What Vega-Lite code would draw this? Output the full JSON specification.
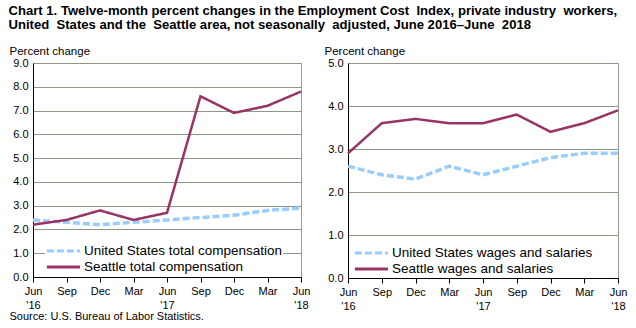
{
  "$schema": "https://vega.github.io/schema/vega-lite/v6.json",
  "padding": {"left": 8, "top": 4, "right": 5, "bottom": 0},
  "background": "white",
  "title": {
    "text": ["Chart 1. Twelve-month percent changes in the Employment Cost\u00a0 Index, private industry\u00a0 workers,", "United\u00a0 States and the\u00a0 Seattle area, not seasonally\u00a0 adjusted, June 2016–June\u00a0 2018"],
    "anchor": "start",
    "font": "Liberation Sans",
    "fontSize": 13.1,
    "fontWeight": "bold",
    "lineHeight": 14.5,
    "color": "#000000",
    "offset": 12
  },
  "datasets": {
    "total": [
      {"q": "Jun|'16", "series": "United States total compensation", "value": 2.4},
      {"q": "Sep", "series": "United States total compensation", "value": 2.3},
      {"q": "Dec", "series": "United States total compensation", "value": 2.2},
      {"q": "Mar", "series": "United States total compensation", "value": 2.3},
      {"q": "Jun|'17", "series": "United States total compensation", "value": 2.4},
      {"q": "Sep ", "series": "United States total compensation", "value": 2.5},
      {"q": "Dec ", "series": "United States total compensation", "value": 2.6},
      {"q": "Mar ", "series": "United States total compensation", "value": 2.8},
      {"q": "Jun|'18", "series": "United States total compensation", "value": 2.9},
      {"q": "Jun|'16", "series": "Seattle total compensation", "value": 2.2},
      {"q": "Sep", "series": "Seattle total compensation", "value": 2.4},
      {"q": "Dec", "series": "Seattle total compensation", "value": 2.8},
      {"q": "Mar", "series": "Seattle total compensation", "value": 2.4},
      {"q": "Jun|'17", "series": "Seattle total compensation", "value": 2.7},
      {"q": "Sep ", "series": "Seattle total compensation", "value": 7.6},
      {"q": "Dec ", "series": "Seattle total compensation", "value": 6.9},
      {"q": "Mar ", "series": "Seattle total compensation", "value": 7.2},
      {"q": "Jun|'18", "series": "Seattle total compensation", "value": 7.8}
    ],
    "wages": [
      {"q": "Jun|'16", "series": "United States wages and salaries", "value": 2.6},
      {"q": "Sep", "series": "United States wages and salaries", "value": 2.4},
      {"q": "Dec", "series": "United States wages and salaries", "value": 2.3},
      {"q": "Mar", "series": "United States wages and salaries", "value": 2.6},
      {"q": "Jun|'17", "series": "United States wages and salaries", "value": 2.4},
      {"q": "Sep ", "series": "United States wages and salaries", "value": 2.6},
      {"q": "Dec ", "series": "United States wages and salaries", "value": 2.8},
      {"q": "Mar ", "series": "United States wages and salaries", "value": 2.9},
      {"q": "Jun|'18", "series": "United States wages and salaries", "value": 2.9},
      {"q": "Jun|'16", "series": "Seattle wages and salaries", "value": 2.9},
      {"q": "Sep", "series": "Seattle wages and salaries", "value": 3.6},
      {"q": "Dec", "series": "Seattle wages and salaries", "value": 3.7},
      {"q": "Mar", "series": "Seattle wages and salaries", "value": 3.6},
      {"q": "Jun|'17", "series": "Seattle wages and salaries", "value": 3.6},
      {"q": "Sep ", "series": "Seattle wages and salaries", "value": 3.8},
      {"q": "Dec ", "series": "Seattle wages and salaries", "value": 3.4},
      {"q": "Mar ", "series": "Seattle wages and salaries", "value": 3.6},
      {"q": "Jun|'18", "series": "Seattle wages and salaries", "value": 3.9}
    ]
  },
  "spacing": 12,
  "hconcat": [
    {
      "width": 268,
      "height": 214,
      "data": {"name": "total"},
      "encoding": {
        "x": {
          "field": "q", "type": "ordinal", "sort": null,
          "scale": {"type": "point", "padding": 0},
          "axis": {
            "labelAngle": 0, "labelExpr": "split(trim(datum.value), '|')",
            "labelLineHeight": 14, "labelPadding": 3,
            "title": "Source: U.S. Bureau of Labor Statistics.",
            "titleAnchor": "start", "titleAlign": "left", "titleX": -24, "titleY": 42,
            "titleBaseline": "alphabetic",
            "titleFontWeight": "normal", "titleFontSize": 11
          }
        },
        "y": {
          "field": "value", "type": "quantitative",
          "scale": {"domain": [0, 9]},
          "axis": {
            "values": [0, 1, 2, 3, 4, 5, 6, 7, 8, 9], "format": ".1f",
            "title": "Percent change", "titleAngle": 0, "titleAlign": "left",
            "titleX": -24, "titleY": -9, "titleBaseline": "alphabetic"
          }
        },
        "color": {
          "field": "series", "type": "nominal", "sort": null,
          "scale": {"domain": ["United States total compensation", "Seattle total compensation"], "range": ["#99ccff", "#993366"]},
          "legend": {"orient": "none", "legendX": 12, "legendY": 180, "title": null}
        },
        "strokeDash": {
          "field": "series", "type": "nominal", "sort": null,
          "scale": {"domain": ["United States total compensation", "Seattle total compensation"], "range": [[7, 3], [1, 0]]}
        }
      },
      "layer": [
        {"transform": [{"filter": "datum.series == 'United States total compensation'"}], "mark": {"type": "line", "strokeWidth": 3.5, "strokeCap": "butt"}},
        {"transform": [{"filter": "datum.series == 'Seattle total compensation'"}], "mark": {"type": "line", "strokeWidth": 2.5}}
      ]
    },
    {
      "width": 270,
      "height": 215,
      "data": {"name": "wages"},
      "encoding": {
        "x": {
          "field": "q", "type": "ordinal", "sort": null,
          "scale": {"type": "point", "padding": 0},
          "axis": {
            "labelAngle": 0, "labelExpr": "split(trim(datum.value), '|')",
            "labelLineHeight": 14, "labelPadding": 3, "title": null
          }
        },
        "y": {
          "field": "value", "type": "quantitative",
          "scale": {"domain": [0, 5]},
          "axis": {
            "values": [0, 1, 2, 3, 4, 5], "format": ".1f",
            "title": "Percent change", "titleAngle": 0, "titleAlign": "left",
            "titleX": -24, "titleY": -9, "titleBaseline": "alphabetic"
          }
        },
        "color": {
          "field": "series", "type": "nominal", "sort": null,
          "scale": {"domain": ["United States wages and salaries", "Seattle wages and salaries"], "range": ["#99ccff", "#993366"]},
          "legend": {"orient": "none", "legendX": 5, "legendY": 182, "title": null}
        },
        "strokeDash": {
          "field": "series", "type": "nominal", "sort": null,
          "scale": {"domain": ["United States wages and salaries", "Seattle wages and salaries"], "range": [[7, 3], [1, 0]]}
        }
      },
      "layer": [
        {"transform": [{"filter": "datum.series == 'United States wages and salaries'"}], "mark": {"type": "line", "strokeWidth": 3.5, "strokeCap": "butt"}},
        {"transform": [{"filter": "datum.series == 'Seattle wages and salaries'"}], "mark": {"type": "line", "strokeWidth": 2.5}}
      ]
    }
  ],
  "resolve": {"scale": {"color": "independent", "strokeDash": "independent"}},
  "config": {
    "font": "Liberation Sans",
    "view": {"stroke": "#8fa088", "strokeWidth": 1},
    "axis": {
      "labelFont": "Liberation Sans", "labelFontSize": 11, "labelColor": "#000000",
      "titleFont": "Liberation Sans", "titleFontSize": 11.5, "titleFontWeight": "normal", "titleColor": "#000000",
      "domainColor": "#000000", "tickColor": "#000000", "gridColor": "#8a9a82", "gridOpacity": 1
    },
    "axisY": {"ticks": false, "labelPadding": 5, "grid": true, "domain": true},
    "axisX": {"ticks": true, "tickSize": 5, "grid": false},
    "legend": {
      "labelFont": "Liberation Sans", "labelFontSize": 13.5, "labelColor": "#000000",
      "symbolType": "stroke", "symbolSize": 1100, "rowPadding": 0, "clipHeight": 16, "fillColor": "white",
      "padding": 0, "labelOffset": 2, "labelLimit": 400, "symbolStrokeWidth": 3
    }
  }
}
